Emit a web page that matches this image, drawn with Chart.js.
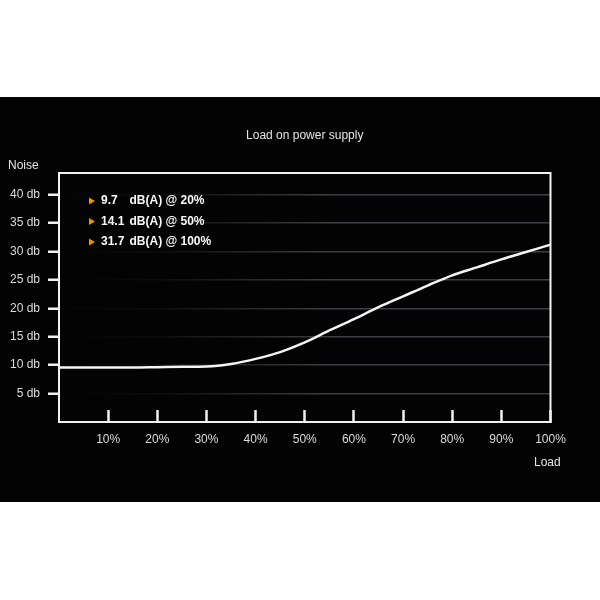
<!DOCTYPE html>
<html>
<head>
<meta charset="utf-8">
<script src="https://cdn.jsdelivr.net/npm/chart.js@4.4.1/dist/chart.umd.min.js"></script>
<style>
  html, body { margin: 0; padding: 0; background: #fff; }
  canvas { display: block; }
</style>
</head>
<body>
<canvas id="noiseChart" width="600" height="600"></canvas>
<script>
// load in %, noise in dB(A)
const loads = [0, 5, 10, 15, 20, 25, 30, 35, 40, 45, 50, 55, 60, 65, 70, 75, 80, 85, 90, 95, 100];
const noise = [9.6, 9.6, 9.6, 9.6, 9.65, 9.7, 9.75, 10.2, 11.1, 12.3, 14.0, 16.1, 18.1, 20.2, 22.1, 24.0, 25.8, 27.2, 28.6, 29.9, 31.2];

const xTicks = [10, 20, 30, 40, 50, 60, 70, 80, 90, 100];
const yTicks = [5, 10, 15, 20, 25, 30, 35, 40];

const highlightValues = ['9.7', '14.1', '31.7'];
const highlightLabels = ['dB(A) @ 20%', 'dB(A) @ 50%', 'dB(A) @ 100%'];

Chart.defaults.font.family = '"Liberation Sans", Arial, sans-serif';

// grid lines fade in from the left edge
function gridFade(c) {
  const a = c.chart.chartArea;
  if (!a) return '#3c3c40';
  const g = c.chart.ctx.createLinearGradient(a.left, 0, a.right, 0);
  g.addColorStop(0, 'rgba(62,62,66,0)');
  g.addColorStop(0.2, 'rgba(62,62,66,0.15)');
  g.addColorStop(0.55, 'rgba(62,62,66,1)');
  g.addColorStop(1, 'rgba(62,62,66,1)');
  return g;
}

const frame = {
  id: 'frame',
  beforeDraw(chart) {
    const ctx = chart.ctx;
    ctx.save();
    ctx.fillStyle = '#fff';
    ctx.fillRect(0, 0, chart.width, chart.height);
    ctx.fillStyle = '#030303';
    ctx.fillRect(0, 97, chart.width, 405);
    ctx.restore();
  },
  afterDraw(chart) {
    const { ctx, chartArea: a } = chart;
    ctx.save();
    ctx.strokeStyle = '#f2f2f2';
    ctx.lineWidth = 2;
    ctx.strokeRect(a.left, a.top, a.right - a.left, a.bottom - a.top);

    ctx.font = '12px "Liberation Sans", Arial, sans-serif';
    ctx.fillStyle = '#e4e4e4';
    ctx.textBaseline = 'middle';
    ctx.textAlign = 'center';
    ctx.fillText('Load on power supply', (a.left + a.right) / 2, 136);
    ctx.textAlign = 'left';
    ctx.fillText('Noise', 8, 166);
    ctx.fillText('Load', 534, 463);

    // highlight rows with orange markers
    ctx.font = 'bold 12px "Liberation Sans", Arial, sans-serif';
    highlightValues.forEach((val, i) => {
      const y = a.top + 28 + i * 20.5;
      ctx.fillStyle = '#f39200';
      ctx.beginPath();
      ctx.moveTo(a.left + 30, y - 3.5);
      ctx.lineTo(a.left + 36, y);
      ctx.lineTo(a.left + 30, y + 3.5);
      ctx.closePath();
      ctx.fill();
      ctx.fillStyle = '#fafafa';
      ctx.fillText(val, a.left + 42, y);
      ctx.fillText(highlightLabels[i], a.left + 70.5, y);
    });
    ctx.restore();
  }
};

new Chart(document.getElementById('noiseChart'), {
  type: 'line',
  data: {
    datasets: [{
      data: loads.map((x, i) => ({ x: x, y: noise[i] })),
      borderColor: '#f5f5f5',
      borderWidth: 2.5,
      pointRadius: 0,
      fill: false,
      cubicInterpolationMode: 'monotone'
    }]
  },
  options: {
    responsive: false,
    animation: false,
    layout: { padding: { left: 0, top: 173, right: 49.5, bottom: 138 } },
    plugins: { legend: { display: false }, tooltip: { enabled: false } },
    scales: {
      x: {
        type: 'linear',
        min: 0,
        max: 100,
        afterFit(s) { s.height = 40; },
        afterBuildTicks(s) { s.ticks = xTicks.map(v => ({ value: v })); },
        border: { color: '#f2f2f2', width: 2 },
        grid: {
          drawOnChartArea: false,
          tickLength: -12,
          tickWidth: 2.5,
          tickColor: '#f2f2f2'
        },
        ticks: {
          padding: 22,
          color: '#dcdcdc',
          font: { size: 12 },
          maxRotation: 0,
          autoSkip: false,
          callback: v => v + '%'
        }
      },
      y: {
        min: 0,
        max: 43.8,
        afterFit(s) { s.width = 59; },
        afterBuildTicks(s) { s.ticks = yTicks.map(v => ({ value: v })); },
        border: { color: '#f2f2f2', width: 2 },
        grid: {
          color: gridFade,
          lineWidth: 1.5,
          tickColor: '#f2f2f2',
          tickLength: 11,
          tickWidth: 2.5
        },
        ticks: {
          padding: 8,
          color: '#dcdcdc',
          font: { size: 12 },
          callback: v => v + ' db'
        }
      }
    }
  },
  plugins: [frame]
});
</script>
</body>
</html>
